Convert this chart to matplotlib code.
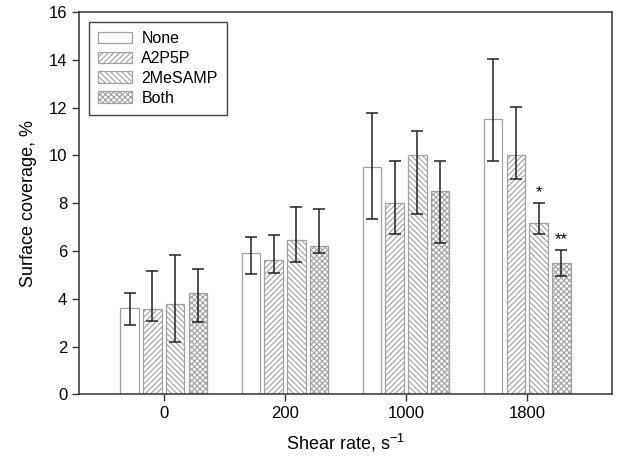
import numpy as np
import matplotlib
matplotlib.use("Agg")
import matplotlib.pyplot as plt

plt.rcParams['font.family'] = ['Liberation Sans', 'DejaVu Sans']
plt.rcParams['hatch.color'] = '#777777'
plt.rcParams['hatch.linewidth'] = 0.8

shear = ['0', '200', '1000', '1800']
series = ['None', 'A2P5P', '2MeSAMP', 'Both']
hatches = ['', '//////', '\\\\\\\\\\\\', 'xxxxxx']

# bar heights, error bar top and bottom
vals = {
    'None':    [3.60, 5.92, 9.50, 11.52],
    'A2P5P':   [3.56, 5.61, 8.02, 10.01],
    '2MeSAMP': [3.77, 6.45, 10.01, 7.17],
    'Both':    [4.25, 6.21, 8.51, 5.52],
}
err_hi = {
    'None':    [4.25, 6.58, 11.77, 14.02],
    'A2P5P':   [5.16, 6.67, 9.78, 12.02],
    '2MeSAMP': [5.83, 7.85, 11.02, 8.02],
    'Both':    [5.23, 7.76, 9.78, 6.03],
}
err_lo = {
    'None':    [2.90, 5.05, 7.34, 9.78],
    'A2P5P':   [3.08, 5.08, 6.71, 9.01],
    '2MeSAMP': [2.19, 5.53, 7.56, 6.71],
    'Both':    [3.05, 5.92, 6.33, 4.94],
}
stars = {('2MeSAMP', 3): '*', ('Both', 3): '**'}

fig = plt.figure(figsize=(6.17, 4.63), dpi=100)
ax = fig.add_axes([0.128, 0.148, 0.864, 0.826])

x = np.arange(len(shear))
pitch = 0.1876
width = 0.153
for i, s in enumerate(series):
    h = np.array(vals[s])
    xs = x + (i - 1.5) * pitch
    ax.bar(xs, h, width, color='white', edgecolor='#a0a0a0', linewidth=0.9,
           hatch=hatches[i], label=s, zorder=2)
    lo = h - np.array(err_lo[s])
    hi = np.array(err_hi[s]) - h
    ax.errorbar(xs, h, yerr=[lo, hi], fmt='none', ecolor='#222222',
                elinewidth=1.1, capsize=4.5, capthick=1.1, zorder=3)
    for j in range(len(shear)):
        if (s, j) in stars:
            ax.text(xs[j], err_hi[s][j] + 0.12, stars[(s, j)], ha='center',
                    va='bottom', fontsize=12)

ax.set_xlim(-0.7, 3.7)
ax.set_ylim(0, 16)
ax.set_xticks(x)
ax.set_xticklabels(shear)
ax.set_yticks(np.arange(0, 17, 2))
ax.tick_params(labelsize=12, direction='out', length=5, width=1, color='#333333')
for sp in ax.spines.values():
    sp.set_linewidth(1.1)
    sp.set_color('#333333')

ax.set_xlabel('Shear rate, s$^{\\mathregular{-1}}$', fontsize=13, labelpad=8)
ax.set_ylabel('Surface coverage, %', fontsize=13, labelpad=8)

leg = ax.legend(loc='upper left', bbox_to_anchor=(0.018, 0.975), fontsize=11.5,
                fancybox=False, framealpha=1, edgecolor='#444444',
                handlelength=2.1, handleheight=0.75, labelspacing=0.3,
                borderpad=0.6, handletextpad=0.6, borderaxespad=0)
leg.get_frame().set_linewidth(1.0)

fig.savefig('out.png', dpi=100)
